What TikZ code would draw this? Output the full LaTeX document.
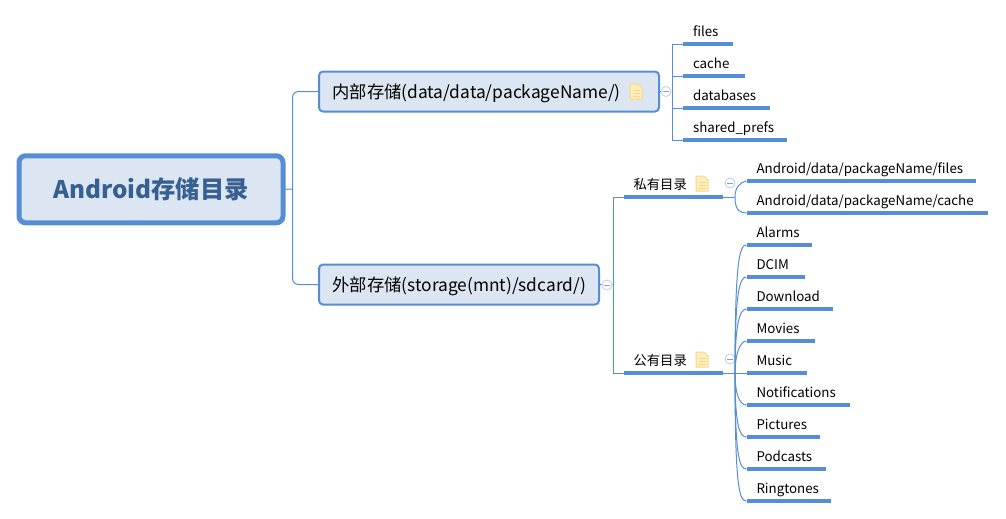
\documentclass[tikz,border=0pt]{standalone}
\usepackage{fontspec}
\setmainfont{Noto Sans CJK SC}
\definecolor{linkblue}{HTML}{558ED5}
\definecolor{boxfill}{HTML}{DCE6F2}
\definecolor{rootink}{HTML}{376092}
\definecolor{foldring}{HTML}{C6D4EE}
\definecolor{foldmark}{HTML}{8FA0BC}
\definecolor{noteedge}{HTML}{F9D57E}
\definecolor{notefill}{HTML}{FFEFBE}
\tikzset{
  link/.style={linkblue,line width=0.75pt},
  under/.style={linkblue,line width=2.4pt},
  rootbox/.style={draw=linkblue,fill=boxfill,line width=3.75pt,rounded corners=5pt,
    minimum width=198pt,minimum height=50.25pt,inner sep=0pt,
    text=rootink,font=\bfseries\fontsize{18.2}{20}\selectfont},
  branchbox/.style={draw=linkblue,fill=boxfill,line width=1.5pt,rounded corners=3pt,
    anchor=west,minimum height=30pt,inner ysep=0pt,inner xsep=10pt,align=left,
    text height=12pt,text depth=1.8pt,font=\fontsize{13}{15}\selectfont},
  leaf/.style={anchor=south west,inner ysep=0pt,inner xsep=7.5pt,outer sep=0pt,align=left,
    text height=8pt,text depth=6.75pt,font=\fontsize{10}{12}\selectfont},
  fold/.style={circle,draw=foldring,fill=white,line width=0.75pt,minimum size=7.5pt,inner sep=0pt},
  pics/note/.style={code={
    \draw[noteedge,fill=notefill,line width=0.75pt,line join=round]
      (-6,-7.5)--(2,-7.5)--(6,-3.5)--(6,7.5)--(-6,7.5)--cycle;
    \foreach \ly in {-1,2,5}
      \draw[noteedge,line width=1.1pt] (-3.5,\ly)--(3.5,\ly);
  }},
}
\begin{document}
\begin{tikzpicture}[x=0.75pt,y=-0.75pt]
  \useasboundingbox (0,0) rectangle (1006,518);
  % root and first level
  \node[rootbox] (root) at (151,189.3) {Android存储目录};
  \node[branchbox,minimum width=255pt,text width=235pt] (inner) at (318,91.5) {内部存储(data/data/packageName/)};
  \node[branchbox,minimum width=210pt,text width=190pt] (outer) at (318,284.5) {外部存储(storage(mnt)/sdcard/)};
  \coordinate (trunk) at (292.5,189);
  \draw[link] (root.east)--(trunk);
  \draw[link,rounded corners=4.5pt] (inner.west) -| (trunk) |- (outer.west);
  \pic at (636,91.5) {note};
  % fold marks
  \node[fold] (innerfold) at (666,91.5) {};
  \node[fold] (outerfold) at (607,285) {};
  \node[fold] (privfold) at (730,183) {};
  \node[fold] (pubfold) at (730,359) {};
  \foreach \n in {innerfold,outerfold,privfold,pubfold}
    \draw[foldmark,line width=0.6pt] ([xshift=-2.2pt]\n.center)--([xshift=2.2pt]\n.center);
  % leaves
  \foreach \n/\x/\y/\w/\t in {
    files/683/45/50/files,cache/683/77/62/cache,databases/683/109/87/databases,
    prefs/683/141/104/shared\_prefs,
    privfiles/746.5/182/229.5/{Android/data/packageName/files},
    privcache/746.5/214/241.5/{Android/data/packageName/cache},
    alarms/746.5/246/65.5/Alarms,dcim/746.5/278/58.5/DCIM,download/746.5/310/86.5/Download,
    movies/746.5/342/68.5/Movies,music/746.5/374/60.5/Music,notes/746.5/406/103.5/Notifications,
    pictures/746.5/438/73/Pictures,podcasts/746.5/470/79/Podcasts,ringtones/746.5/502/84.5/Ringtones}
  {
    \pgfmathsetlengthmacro{\tw}{(\w-20)*0.75pt}
    \node[leaf,text width=\tw] (\n) at (\x,\y) {\t};
    \draw[under] ([yshift=0.75pt]\n.south west)--([yshift=0.75pt]\n.south east);
  }
  \node[leaf,text width=59.25pt] (priv) at (623.5,198) {私有目录};
  \node[leaf,text width=59.25pt] (pub) at (623.5,374) {公有目录};
  \draw[under] ([yshift=0.75pt]priv.south west)--([yshift=0.75pt]priv.south east);
  \draw[under] ([yshift=0.75pt]pub.south west)--([yshift=0.75pt]pub.south east);
  \pic at (702,183.5) {note};
  \pic at (702,359.5) {note};
  % inner storage links
  \coordinate (innerhub) at (672.5,91.5);
  \draw[link] (inner.east)--(innerfold)--(innerhub);
  \foreach \n in {files,cache,databases,prefs}
    \draw[link] ([yshift=0.75pt]\n.south west) -| (innerhub);
  % outer storage links
  \coordinate (outerhub) at (613.5,285);
  \draw[link] (outer.east)--(outerfold)--(outerhub);
  \foreach \n in {priv,pub}
    \draw[link] ([yshift=0.75pt]\n.south west) -| (outerhub);
  % private dir
  \coordinate (privhub) at (735,197);
  \draw[link] ([yshift=0.75pt]priv.south east)--(privhub);
  \draw[link] (privhub) .. controls ([shift={(-11.5,5)}]privfiles.south west) and ([shift={(-6,0)}]privfiles.south west) .. ([yshift=0.75pt]privfiles.south west);
  \draw[link] (privhub) .. controls ([shift={(-11.5,-3)}]privcache.south west) and ([shift={(-6,-1)}]privcache.south west) .. ([yshift=0.75pt]privcache.south west);
  % public dir
  \coordinate (pubhub) at (735,373);
  \draw[link] ([yshift=0.75pt]pub.south east)--([yshift=0.75pt]music.south west);
  \foreach \n in {alarms,dcim,download,movies}
    \draw[link] (pubhub) .. controls ([shift={(-11.5,14)}]\n.south west) and ([shift={(-7,-1)}]\n.south west) .. ([yshift=0.75pt]\n.south west);
  \foreach \n in {notes,pictures,podcasts,ringtones}
    \draw[link] (pubhub) .. controls ([shift={(-11.5,-12)}]\n.south west) and ([shift={(-7,-1)}]\n.south west) .. ([yshift=0.75pt]\n.south west);
\end{tikzpicture}
\end{document}
